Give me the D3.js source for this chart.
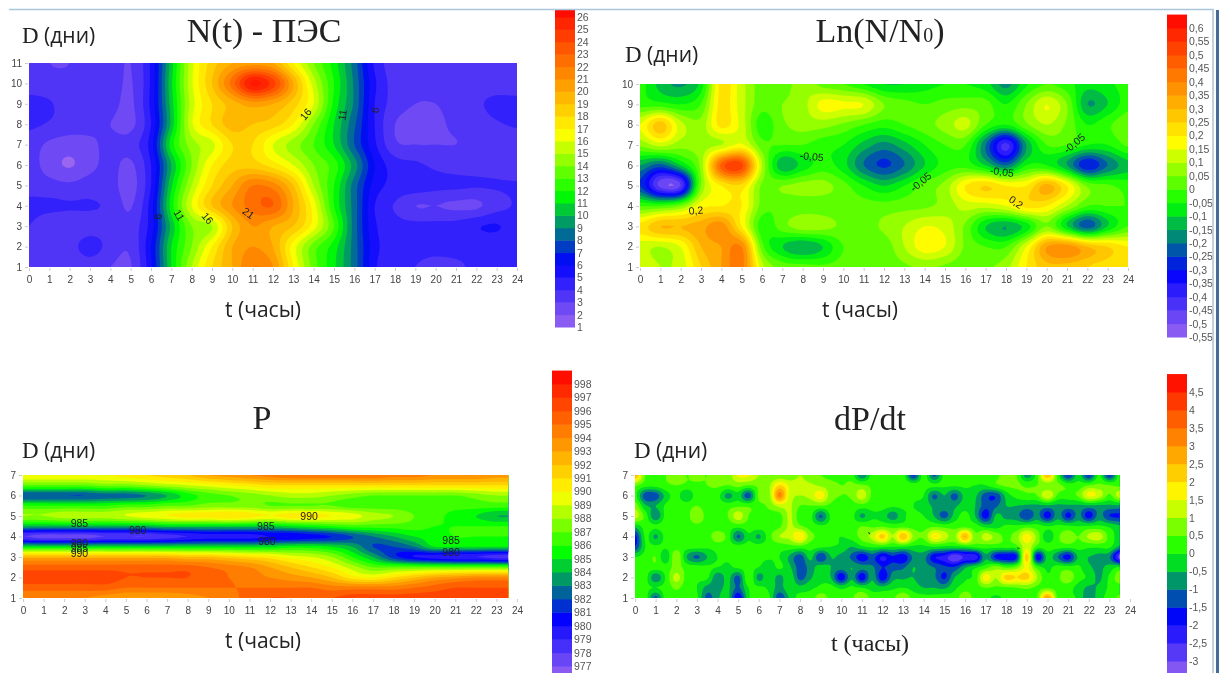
<!DOCTYPE html>
<html>
<head>
	<meta charset="utf-8">
	<title>N(t) - ПЭС</title>
	<script src="https://cdnjs.cloudflare.com/ajax/libs/d3/7.8.5/d3.min.js"></script>
	<style>
		html, body {margin: 0; background: #fff; overflow: hidden}
		svg {filter: blur(0.55px)}
		text {font-family: "Liberation Sans", Arial, sans-serif; fill: #444}
		.title {font-family: "Liberation Serif", serif; fill: #222; font-size: 34px; text-anchor: middle}
		.name {font-family: "Open Sans", sans-serif; fill: #222; font-size: 21px}
		.serifD {font-family: "Liberation Serif", serif; fill: #222; font-size: 23px}
		.serifName {font-family: "Liberation Serif", serif; fill: #222; font-size: 24px}
		.tick line {stroke: #ccc}
		.tick text {font-size: 10px; fill: #444}
		.domain {display: none}
		.lab {font-size: 10.5px; fill: #222; text-anchor: middle; dominant-baseline: central}
		.legendLab {font-size: 10.5px; fill: #555}
	</style>
</head>
<body>
	<svg id="chart" width="1219" height="673"></svg>
	<script>
		var hours = d3.range(0, 25);
		var hoursDp = d3.range(0, 47.5).map(function(i){ return i / 2; });

		var daysN = [11, 10, 9, 8, 7, 6, 5, 4, 3, 2, 1];
		var valuesN = [
			[3.6,3,3,3.6,3.6,3,5.2,10.5,15.7,18.5,20,20.5,20,17,14,11.5,8.5,4.8,3.5,3.4,3.2,3.5,3.7,3.6,3],
			[3.6,3.4,3.3,3.6,3.6,2.9,5.2,10.8,15.8,19,22.5,26.3,24.5,20,15.5,12,8.8,5.2,3.6,3.5,3.4,3.5,3.6,3.5,3.4],
			[4.3,4.1,3.5,3.5,3.4,2.8,5.3,10.5,15.5,18,19.5,20.5,20,18.5,16,11.7,8.8,5,3.6,3,3,3.4,3.8,4.3,4.3],
			[4.2,3.9,3.5,3.3,3,2.7,5,10.3,15.8,18,19.5,19,18.5,17,14,11,8.2,5,3,2.6,2.8,3.2,3.5,3.9,4.1],
			[3.5,2.8,2.5,2.8,3.3,3.5,5.5,11.5,14.5,15.7,18,18,16,14.5,13,11,8,5.2,3.2,3,3,3,3.2,3.5,3.5],
			[3.5,2.5,1.9,2.7,3.3,2.8,5,10,14,17,18.5,18.5,17.5,16,14,12.5,9.5,6,4.5,4.2,3.8,3.6,3.6,3.6,3.5],
			[3.7,3.4,3.2,3.5,3.4,2.6,5,10.8,15,18,20,22,21.5,19,15,12,8.5,5.6,4.7,4.6,4.3,4.2,4.1,4.1,4.1],
			[4.2,4.2,4.1,4.1,3.8,2.9,5.5,11.5,16,19,21,22.5,23,20,16.5,12,8.5,5,3.9,3,3,2.8,2.8,3.6,4.1],
			[4,3.4,3.3,3.5,3.6,3.4,5.5,10.3,14,15,19,21,20,19,16.5,13,8.5,5.2,4.4,4.3,4.3,4.4,4.9,5.1,4.4],
			[3.7,3.5,3.6,4.5,3.6,3.2,6,11,14,17,20,21,20,16.5,13.5,11.5,8.5,5.4,4.4,4.2,4.2,4.2,4.2,4.2,4.2],
			[3.5,3.3,3.2,3.4,3,2.9,5.8,11,15,18,20,22,21,17,13.5,11.2,8.5,5.2,4.2,4,3.8,3.9,4.1,4.1,4.1]
		];

		var daysLn = [10, 9, 8, 7, 6, 5, 4, 3, 2, 1];
		var valuesLn = [
			[-.03,-.12,-.16,-.08,.22,.12,.02,.02,.08,.03,0,-.05,-.1,-.1,-.07,-.05,-.05,-.08,-.17,-.06,0,-.03,-.08,-.06,-.03],
			[-.02,-.03,-.05,0,.22,.12,.02,.05,.08,.17,.16,.15,.05,.02,0,.02,.03,.02,-.05,.05,.15,.05,-.15,-.1,-.02],
			[.15,.28,.12,.07,.22,.13,-.03,.04,.07,.07,.04,0,-.03,0,.03,.07,.12,0,-.05,.04,.1,.04,-.05,-.01,.04],
			[.06,.12,.07,.08,.1,.16,.02,0,0,-.03,-.05,-.12,-.17,-.12,-.05,0,0,-.2,-.42,-.15,0,0,-.05,-.05,.01],
			[-.15,-.22,-.1,.07,.47,.52,.1,-.14,-.08,-.03,-.08,-.2,-.26,-.2,-.1,-.03,-.02,-.1,-.2,-.05,-.05,-.15,-.3,-.2,-.12],
			[-.25,-.47,-.45,.05,.2,.23,.04,.05,.07,.07,.02,-.05,-.1,-.05,.02,.07,.2,.25,.2,.2,.32,.2,.04,.01,-.02],
			[0,0,.05,.18,.2,.2,.03,.01,.02,.02,.02,.02,.02,.03,.04,.07,.12,.12,.15,.22,.2,.1,0,0,0],
			[.22,.3,.3,.33,.38,.2,-.03,.03,.08,.07,.04,.03,.06,.1,.15,.13,.04,-.1,-.15,-.08,.05,-.1,-.23,-.1,0],
			[.12,.1,.15,.3,.35,.4,.02,-.1,-.15,-.1,0,.01,.02,.1,.18,.15,.04,0,0,.15,.35,.38,.3,.25,.2],
			[.15,.1,.12,.25,.35,.42,.12,.03,.02,.01,.02,.02,.02,.04,.06,.04,.02,.04,.08,.2,.28,.28,.25,.22,.2]
		];

		var daysP = [7, 6.5, 6, 5.5, 5, 4.5, 4, 3.5, 3, 2.5, 2, 1.5, 1];
		var valuesP = [
			[990,990,990,990,990,990.5,991,991.5,992,993,993.5,994,994.5,995,995,995,995,995,994.5,994.5,994,994,994,993.5,993.5],
			[987,987,987,987,987.5,987.5,988,988.5,989,989.5,990,990.5,991,991,991,991,991,991,991,991,991,991,991,991,991],
			[982,982,982,982,982.5,982.5,983,984,985.5,986.5,987,987.5,988,988.5,988.5,988,987.5,987,987,987,987,987,987.5,988,988],
			[986,986,986,986,986,986.5,986.5,987,987,987.5,987.5,987.5,987,987,987,987,986.5,986.5,986.5,986.5,986.5,986.5,986.5,986.5,986.5],
			[988,988,988.5,988.5,988.5,989,989.5,990,990.5,990.5,991,990.5,990,990.5,990.5,990,989.5,988.5,988,987,986.5,985.5,985,984,984],
			[984,984,984,984,984,984,984,984.5,984.5,984.5,984.5,984.5,984.5,985,985.5,986,986.5,986.5,986.5,986.5,986,986,986,986,986],
			[978,977.5,977.5,977.5,978,978,978,978.5,979,979.5,979.5,979.5,980,980,980.5,981,982,983,984,985,985.5,986,986,986,986],
			[985,985,985,985,985,985,985,985,985,985,985,985,985,985.5,985.5,985,984,982,982,983,985,985,985,985,985],
			[992.5,992.5,992.5,992.5,992.5,992.5,992.5,992.5,992,992,991.5,991,990.5,989.5,989,988,986,984,981.5,980,979.5,979,979,978.5,978.5],
			[995.5,995.5,995.5,995.5,995.5,995.5,995.5,995.5,995.5,995,994.5,994,993,992,991,990,988.5,987,987,987,987,987,987,987,987],
			[996.5,996.5,996.5,996.5,996.5,996,996,996,996,995.5,995,994.5,994,993.5,993,992,990.5,990,991,992,993,993.5,994,994,994],
			[995.5,995.5,995.5,995.5,995.5,995,995,995,995,995,995,995,995,995,995,994.5,994.5,994.5,994.5,995,995.5,996,996,996,996],
			[994,994,994,994,993.5,993,993,993,993.5,994,994.5,995.5,996,996,996,996,996.5,996.5,996.5,996.5,996.5,996.5,996.5,996.5,996.5]
		];

		var daysDp = [7, 6.5, 6, 5.5, 5, 4.5, 4, 3.5, 3, 2.5, 2, 1.5, 1];
		var valuesDp = [
			[2.8,.5,.5,.5, 1,.5,.7,.5, 1,.7,1.6,1.6, 1,.5,.6,.5, 1,.6,.5,.3, .2,.3,-1,.2, .2,.3,.3,-1.6, .3,-1.2,.2,.2, .2,.2,0,.3, .8,.5,-.8,.3, 2.6,.2,-1.6,-.2, -1.6,.1,-1.6,.3],
			[.6,.2,.2,.4, .5,.4,.4,.5, .6,.5,.7,.5, .6,.9,2,1.4, 1.2,1.1,.9,.7, .5,.6,.6,.4, .4,.4,.4,.3, .2,.1,.1,.1, .1,0,0,.4, .6,.6,.4,.5, .6,.6,.3,.2, .5,.6,.5,.4],
			[.2,-1.3,-1.3,-.3, .2,-.5,.3,.3, .2,-.7,-.2,-1.3, .6,.8,3.2,1.3, 1,1.2,1.8,.7, .5,.6,1.3,.4, .3,.3,.3,.1, 0,-1.1,-.5,-1.2, -.3,-.4,-1.3,-1.4, -.3,.2,.4,.5, 1.5,.4,.3,.6, 1.6,1.3,.4,1.3],
			[.8,-.4,-.5,.1, .4,.3,.5,.3, .3,.3,.4,.4, .4,.6,1.2,1.1, .5,.5,.5,.4, .4,.3,.3,.2, .2,.1,.1,0, -.2,-.6,-.6,-.6, -.2,-.5,-1.3,-1.1, -.5,-.5,-.6,-.6, -.6,-.6,-.6,-.6, -.6,-.6,-.6,-.6],
			[1.3,.3,-.9,.2, .3,.3,.9,.3, .3,.5,1.3,.5, .4,.3,.3,1.1, .2,.2,-1.1,.1, .3,.2,-.6,-.1, -.2,-.8,-.1,.1, 0,-.5,-1.2,-.3, .2,-.5,-1.8,-.4, -.7,-.8,-1.5,-.8, -1.8,-.7,-1.7,-.8, -1.8,-.8,-1.5,-1.6],
			[-.3,.2,.1,.3, .3,.3,.4,.3, .2,.2,.2,.3, .3,.3,.4,1.1, .6,.3,.1,.2, .3,.2,.5,.4, .4,.3,.3,.3, .3,.4,.3,.3, .3,.2,-.2,-.2, .1,.1,.3,.2, 0,.1,.1,0, .1,.1,-.1,-.4],
			[-1.7,.1,-.6,.2, .3,.3,.5,.3, .8,.3,-1.1,-.1, -.6,.3,1,1.2, 2,.7,.4,.2, 0,.2,.7,1.2, 2.2,1,2.5,.9, .6,1.8,1.3,.8, 2.6,.6,1.3,.8, .4,.8,1.8,.8, -.4,.4,.8,.5, 1.1,1.3,.3,-.2],
			[-1.5,0,.1,.1, .3,.2,.2,.1, .2,.2,.2,.2, .2,.2,.2,.3, .3,.2,.1,0, -.1,-.5,-.1,.1, .1,0,0,-.1, -.1,0,-.1,-.1, 0,.2,.2,.2, .2,.3,1.4,.3, .2,.2,.2,.2, .1,.1,.1,-.6],
			[0,.2,.5,-.4, 1,-.5,-1.1,-.5, 0,.1,.1,.1, .1,.1,0,-.6, -1.3,-.3,-1.5,-.5, -.7,-1.1,-1.9,-1.3, -2.1,-1.6,-1.9,-.9, -.8,-1.9,-2.2,-3, -2.4,-2.4,-.6,-1.7, -1.9,-1.6,2.3,-1.9, -.3,-1,-1.8,-.4, -.5,-.7,-.9,-2.8],
			[.1,.2,.3,.2, .7,.3,.2,.1, 0,-.1,.1,.1, 0,-.3,.1,-.4, -1.2,-.8,-.2,-.5, -.7,-.5,-.8,-.9, -1.5,-1.2,-1.1,-.5, -.8,-1,-1.4,-1.4, -.6,-.1,.3,.8, .4,.7,1.6,.3, -.1,.2,.2,.1, -.4,-.6,-.3,.1],
			[.1,.2,-.9,.1, 1.2,.3,.1,.1, -.9,-.3,-1.2,.5, -.7,-.1,-.7,-.1, -1.2,-.6,-.1,-.5, -1.9,-.6,-1.9,-.6, -1.9,-.7,-.6,-.5, -.9,-.9,-1.6,-.5, -.1,.2,1.8,1, 2.2,2,2.2,1, .1,.4,.8,.2, -.1,-.6,.1,.8],
			[.2,.1,0,.2, .6,.2,0,-.7, -.7,-.4,-1.1,0, .1,-.1,-.7,-.1, -.3,-.1,.1,.2, -.1,.1,0,-.2, -.3,-.1,0,-.2, -.5,-.5,-.6,-.1, .2,.3,.5,.4, .4,.5,.6,.4, .4,.3,.2,-.2, -.6,-.4,.1,.3],
			[.5,.3,-1.2,.3, .2,.1,.1,-1.2, -.6,-.3,-2,-.1, .2,.1,-1.4,-.4, .2,.2,.8,.3, .2,.4,1,.3, .3,.4,1,.3, .2,.2,.3,.2, 1,.2,.1,-.1, .1,.1,.2,.5, 3,.3,.1,-.1, -.9,-.2,.2,.6]
		];

		// labels on the contours: t, D, text, angle
		var labelsN = [[6.33,3.47,"6",-90],[7.4,3.55,"11",60],[8.8,3.4,"16",50],[10.8,3.65,"21",35],[13.6,8.5,"16",-50],[15.4,8.45,"11",-80],[17,8.7,"6",-70]];
		var labelsLn = [[8.45,6.45,"-0,05",5],[13.8,5.2,"-0,05",-40],[17.8,5.7,"-0,05",8],[21.35,7.1,"-0,05",-40],[2.75,3.8,"0,2",-5],[18.5,4.2,"0,2",35]];
		var labelsP = [[2.74,4.67,"985",0],[5.57,4.32,"980",0],[2.74,3.7,"980",0],[2.74,3.45,"985",0],[2.74,3.2,"990",0],[11.8,4.5,"985",0],[11.85,3.8,"980",0],[13.9,5,"990",0],[20.8,3.83,"985",0],[20.8,3.25,"980",0]];
		var labelsDp = [[11.4,4.2,"-",50],[18.6,3.5,"-",10]];

		var ticksN = d3.range(1, 27);
		var ticksLn = d3.range(-11, 13).map(function(i){ return i * 0.05; });
		var ticksP = d3.range(977, 999);
		var ticksDp = d3.range(-6, 10).map(function(i){ return i * 0.5; });

		var svg = d3.select("#chart");

		// rainbow of the scale: purple, blue, green, yellow, red
		var rainbow = d3.scaleLinear()
			.domain([0, 0.2, 0.41, 0.6, 1])
			.range(["#9a66f0", "#0000ff", "#00ff00", "#ffff00", "#ff0000"]);

		var comma = function(v){ return String(+v.toFixed(2)).replace(".", ","); };

		// catmull-rom on a row, only to get round contours out of the coarse grid
		var cubic = function(a, b, c, d, f){
			return b + 0.5 * f * (c - a + f * (2 * a - 5 * b + 4 * c - d + f * (3 * (b - c) + d - a)));
		};
		var refine = function(rows, k){
			var refineRow = function(row){
				var out = [];
				for(var i = 0; i < row.length - 1; i++){
					for(var s = 0; s < k; s++){
						out.push(cubic(row[Math.max(i - 1, 0)], row[i], row[i + 1], row[Math.min(i + 2, row.length - 1)], s / k));
					}
				}
				out.push(row[row.length - 1]);
				return out;
			};
			var wide = rows.map(refineRow);
			var cols = d3.transpose(wide).map(refineRow);
			return d3.transpose(cols);
		};

		var drawPanel = function(p){
			var x = d3.scaleLinear().domain([0, 24]).range(p.xr);
			var y = d3.scaleLinear().domain([1, p.days[0]]).range(p.yr);
			var k = 6;
			var grid = refine(p.values, k);
			var n = grid.length, m = grid[0].length;

			// index of the refined grid to data position
			var colT = d3.scaleLinear().domain(p.hours.map(function(d, i){ return i * k; })).range(p.hours);
			var rowD = d3.scaleLinear().domain(p.days.map(function(d, i){ return i * k; })).range(p.days);
			var toPixels = d3.geoTransform({
				point: function(gx, gy){
					this.stream.point(x(colT(gx - 0.5)), y(rowD(gy - 0.5)));
				}
			});
			var path = d3.geoPath(toPixels);

			var right = x(p.endT);
			var top = y(p.days[0]), bottom = y(1);

			var color = function(v){ return rainbow((v - p.lo) / (p.hi - p.lo)); };

			var clipId = "clip" + p.id;
			svg.append("clipPath").attr("id", clipId).append("rect")
				.attr("x", x(0)).attr("y", top).attr("width", right - x(0)).attr("height", bottom - top);

			var g = svg.append("g");
			var inner = g.append("g").attr("clip-path", "url(#" + clipId + ")");
			inner.append("rect")
				.attr("x", x(0)).attr("y", top).attr("width", right - x(0)).attr("height", bottom - top)
				.attr("fill", color(p.lo));

			var contours = d3.contours().size([m, n]).thresholds(p.levels)(d3.merge(grid));
			inner.selectAll("path").data(contours).enter().append("path")
				.attr("d", path)
				.attr("fill", function(d, i){
					return color(i < p.levels.length - 1 ? (p.levels[i] + p.levels[i + 1]) / 2 : p.levels[i]);
				});

			g.append("g")
				.attr("transform", "translate(0," + (bottom + 1) + ")")
				.call(d3.axisBottom(x).tickValues(d3.range(0, 25)).tickSize(3).tickPadding(5).tickFormat(d3.format("d")));
			g.append("g")
				.attr("transform", "translate(" + (x(0) - 1) + ",0)")
				.call(d3.axisLeft(y).tickValues(d3.range(1, p.days[0] + 1)).tickSize(3).tickPadding(3).tickFormat(d3.format("d")));

			g.selectAll(".lab").data(p.labels).enter().append("text")
				.attr("class", "lab")
				.attr("transform", function(d){ return "translate(" + x(d[0]) + "," + y(d[1]) + ") rotate(" + d[3] + ")"; })
				.text(function(d){ return d[2]; });

			var title = svg.append("text").attr("class", "title").attr("x", p.titleX).attr("y", p.titleY).text(p.title);
			if(p.titleSmall){
				title.append("tspan").style("font-size", "20px").text(p.titleSmall);
				title.append("tspan").text(")");
			}
			var dLab = svg.append("text").attr("class", "name").attr("x", p.dX).attr("y", p.dY);
			dLab.append("tspan").attr("class", "serifD").text("D");
			dLab.append("tspan").text(" (дни)");
			svg.append("text").attr("class", p.serifT ? "serifName" : "name")
				.attr("x", p.tX).attr("y", p.tY).attr("text-anchor", "middle").text("t (часы)");

			// colour scale on the right
			var lg = svg.append("g");
			var ls = d3.scaleLinear().domain(p.legendDomain).range(p.legendRange);
			var lv = p.legendLevels;
			lg.selectAll("rect").data(lv).enter().append("rect")
				.attr("x", p.legendX).attr("width", 20)
				.attr("y", function(d, i){
					var up = i < lv.length - 1 ? lv[i + 1] : p.hi;
					return Math.max(ls(up), p.legendTop);
				})
				.attr("height", function(d, i){
					var up = i < lv.length - 1 ? lv[i + 1] : p.hi;
					return ls(d) - Math.max(ls(up), p.legendTop) + 0.5;
				})
				.attr("fill", function(d, i){
					var up = i < lv.length - 1 ? lv[i + 1] : p.hi;
					return color((d + up) / 2);
				});
			lg.selectAll("text").data(p.ticks).enter().append("text")
				.attr("class", "legendLab")
				.attr("x", p.legendX + 22)
				.attr("y", function(d){ return ls(d) + 4; })
				.text(p.format);
		};

		drawPanel({
			id: "N", hours: hours, endT: 24, days: daysN, values: valuesN, labels: labelsN,
			xr: [29, 517], yr: [267, 63], lo: 1, hi: 27,
			levels: d3.range(2, 27), title: "N(t) - ПЭС", titleX: 264, titleY: 42,
			dX: 22, dY: 43, tX: 263, tY: 317,
			legendX: 555, legendTop: 10, legendDomain: [1, 26], legendRange: [327, 17],
			legendLevels: d3.range(1, 27), ticks: ticksN, format: d3.format("d")
		});
		drawPanel({
			id: "Ln", hours: hours, endT: 24, days: daysLn, values: valuesLn, labels: labelsLn,
			xr: [640, 1128], yr: [267, 84], lo: -0.55, hi: 0.65,
			levels: d3.range(-10, 13).map(function(i){ return i * 0.05; }), title: "Ln(N/N", titleSmall: "0", titleX: 880, titleY: 42,
			dX: 625, dY: 62, tX: 860, tY: 317,
			legendX: 1167, legendTop: 14, legendDomain: [-0.55, 0.6], legendRange: [337, 28],
			legendLevels: d3.range(-11, 13).map(function(i){ return i * 0.05; }), ticks: ticksLn, format: comma
		});
		drawPanel({
			id: "P", hours: hours, endT: 23.57, days: daysP, values: valuesP, labels: labelsP,
			xr: [23, 517], yr: [598, 475], lo: 976, hi: 999,
			levels: d3.range(977, 999), title: "P", titleX: 262, titleY: 429,
			dX: 22, dY: 458, tX: 263, tY: 648,
			legendX: 552, legendTop: 370, legendDomain: [977, 998], legendRange: [666, 384],
			legendLevels: d3.range(976, 999), ticks: ticksP, format: d3.format("d")
		});
		drawPanel({
			id: "Dp", hours: hoursDp, endT: 23.5, days: daysDp, values: valuesDp, labels: labelsDp,
			xr: [635, 1130], yr: [598, 475], lo: -3.5, hi: 5,
			levels: d3.range(-6, 10).map(function(i){ return i * 0.5; }), title: "dP/dt", titleX: 870, titleY: 430,
			dX: 634, dY: 458, tX: 870, tY: 651, serifT: true,
			legendX: 1167, legendTop: 374, legendDomain: [-3, 4.5], legendRange: [661, 392],
			legendLevels: d3.range(-7, 10).map(function(i){ return i * 0.5; }), ticks: ticksDp, format: comma
		});

		// frame of the pasted slide
		svg.append("path").attr("d", d3.line()([[9, 9.5], [1213, 9.5], [1213, 673]]))
			.attr("fill", "none").attr("stroke", "#a9c6da").attr("stroke-width", 1.5);
		svg.append("path").attr("d", d3.line()([[1217.5, 10], [1217.5, 673]]))
			.attr("fill", "none").attr("stroke", "#4a6a96").attr("stroke-width", 3);
	</script>
</body>
</html>
